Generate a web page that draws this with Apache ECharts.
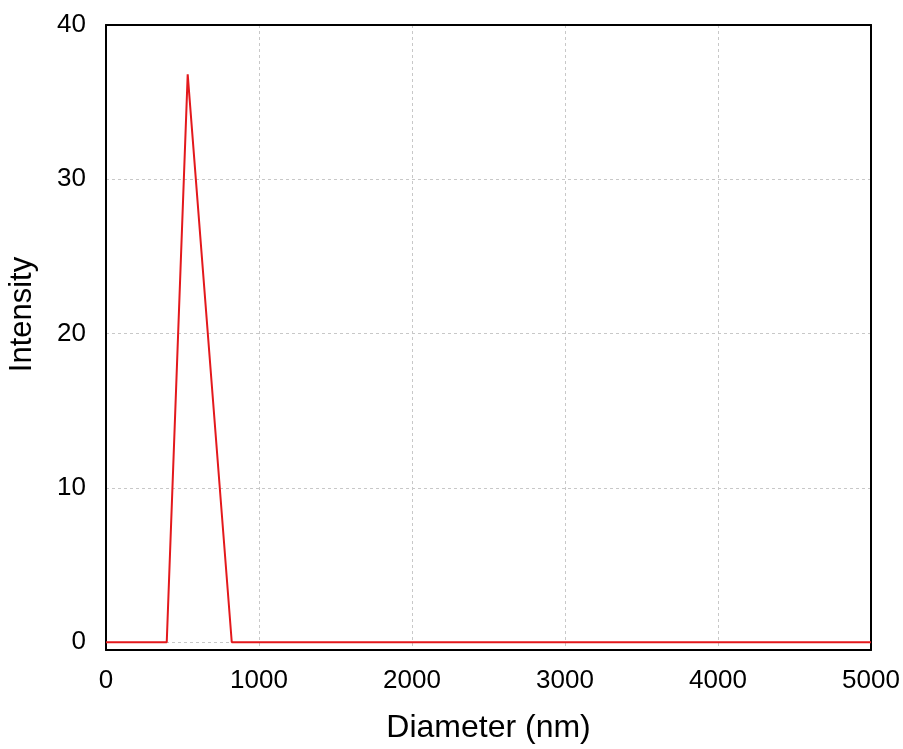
<!DOCTYPE html>
<html>
<head>
<meta charset="utf-8">
<script src="https://cdn.jsdelivr.net/npm/echarts@6/dist/echarts.min.js"></script>
<style>
  html, body { margin: 0; padding: 0; background: #fff; }
  #chart { width: 903px; height: 749px; }
</style>
</head>
<body>
<div id="chart"></div>
<script>
// Size distribution: diameter (nm) vs intensity
const diameter = [0, 397, 534, 822, 5000];
const intensity = [0, 0, 36.8, 0, 0];
const xTicks = [0, 1000, 2000, 3000, 4000, 5000];
const yTicks = [0, 10, 20, 30, 40];

const points = diameter.map((d, i) => [d, intensity[i]]);
const font = 'Liberation Sans, Arial, sans-serif';
const frame = { show: true, onZero: false, lineStyle: { color: '#000', width: 2 } };
const dashed = { show: true, lineStyle: { color: '#c8c8c8', type: [3, 3], width: 1 } };

const chart = echarts.init(document.getElementById('chart'), null, { renderer: 'canvas' });
chart.setOption({
  backgroundColor: '#ffffff',
  animation: false,
  grid: {
    left: 106, right: 32, top: 25, bottom: 99,
    containLabel: false, outerBoundsMode: 'none', show: false
  },
  xAxis: [{
    type: 'value', position: 'bottom',
    min: xTicks[0], max: xTicks[xTicks.length - 1], interval: 1000,
    name: 'Diameter (nm)', nameLocation: 'middle', nameGap: 62,
    nameTextStyle: { fontFamily: font, fontSize: 32, color: '#000' },
    axisLine: frame, axisTick: { show: false },
    axisLabel: { fontFamily: font, fontSize: 26, color: '#000', margin: 18, formatter: v => String(v) },
    splitLine: dashed
  }, {
    type: 'value', position: 'top',
    min: xTicks[0], max: xTicks[xTicks.length - 1], interval: 1000,
    axisLine: frame, axisTick: { show: false }, axisLabel: { show: false }, splitLine: { show: false }
  }],
  yAxis: [{
    type: 'value', position: 'left',
    min: -0.5, max: yTicks[yTicks.length - 1], splitNumber: 4,
    name: 'Intensity', nameLocation: 'middle', nameGap: 68,
    nameTextStyle: { fontFamily: font, fontSize: 31, color: '#000', padding: [0, 0, 0, 46] },
    axisLine: frame, axisTick: { show: false },
    axisLabel: {
      fontFamily: font, fontSize: 26, color: '#000', margin: 20,
      padding: [5, 0, 0, 0],
      showMinLabel: false,
      formatter: v => (yTicks.includes(v) ? String(v) : '')
    },
    splitLine: dashed
  }, {
    type: 'value', position: 'right',
    min: -0.5, max: yTicks[yTicks.length - 1], splitNumber: 4,
    axisLine: frame, axisTick: { show: false }, axisLabel: { show: false }, splitLine: { show: false }
  }],
  series: [{
    type: 'line',
    data: points,
    showSymbol: false,
    lineStyle: { color: '#e3191c', width: 2 },
    itemStyle: { color: '#e3191c' },
    z: 3
  }]
});
</script>
</body>
</html>
